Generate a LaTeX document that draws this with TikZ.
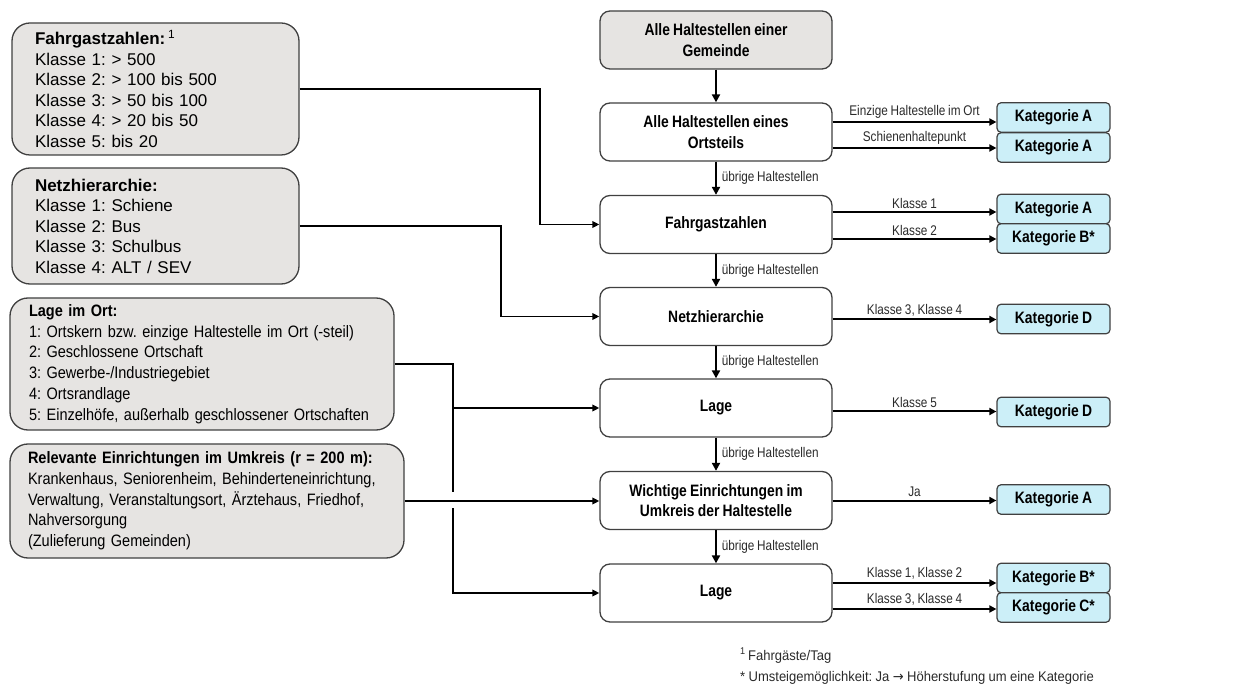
\documentclass[tikz,border=0pt]{standalone}
\usepackage{fontspec}
\setmainfont{Liberation Sans}
\newfontfamily\fB{Liberation Sans}[FakeStretch=0.88,WordSpace=0.88]
\newfontfamily\fC{Liberation Sans}[FakeStretch=0.84,WordSpace=0.84]
\newfontfamily\fF{Liberation Sans}[FakeStretch=0.93,WordSpace=0.93]
\newfontfamily\fArr{DejaVu Sans}[FakeStretch=0.93]
\usetikzlibrary{arrows.meta,calc}
\definecolor{boxgray}{HTML}{E6E4E2}
\definecolor{boxline}{HTML}{404040}
\definecolor{katcyan}{HTML}{CCEFF8}
\definecolor{labtext}{HTML}{2A2A2A}
\begin{document}
\frenchspacing
\begin{tikzpicture}[x=1pt,y=-1pt,
  infobox/.style={draw=boxline, line width=1.3pt, fill=boxgray, rounded corners=18pt, align=left, inner ysep=0pt},
  stepbox/.style={draw=boxline, line width=1.3pt, rounded corners=10pt, minimum width=232pt, minimum height=58pt, align=center, inner sep=0pt, font=\fC\bfseries\fontsize{16.5pt}{20.5pt}\selectfont},
  katbox/.style={draw=boxline, line width=1.2pt, fill=katcyan, rounded corners=4pt, minimum width=113pt, minimum height=29.5pt, inner sep=0pt, font=\fC\bfseries\fontsize{16.5pt}{20pt}\selectfont},
  flow/.style={line width=2.6pt, -{Triangle[length=8pt,width=8pt]}},
  outarr/.style={line width=2pt, -{Triangle[length=7pt,width=7pt]}},
  conn/.style={line width=1.8pt},
  connarr/.style={line width=1.8pt, -{Triangle[length=7pt,width=6.5pt]}},
  lab/.style={font=\fC\fontsize{14pt}{16pt}\selectfont, text=labtext, inner sep=2.5pt},
  foot/.style={font=\fF\fontsize{14pt}{17pt}\selectfont, text=labtext, inner sep=0pt}
]
\useasboundingbox (0,0) rectangle (1240,684);

% left information boxes
\node[infobox, text width=241pt, inner xsep=23pt, minimum height=132pt,
      font=\fontsize{17pt}{20.5pt}\selectfont] (lb1) at (155.5,89)
  {\textbf{Fahrgastzahlen:}\,\textsuperscript{1}\\
   Klasse 1: > 500\\
   Klasse 2: > 100 bis 500\\
   Klasse 3: > 50 bis 100\\
   Klasse 4: > 20 bis 50\\
   Klasse 5: bis 20};
\node[infobox, text width=241pt, inner xsep=23pt, minimum height=116pt,
      font=\fontsize{17pt}{20.5pt}\selectfont] (lb2) at (155.5,226)
  {\textbf{Netzhierarchie:}\\
   Klasse 1: Schiene\\
   Klasse 2: Bus\\
   Klasse 3: Schulbus\\
   Klasse 4: ALT / SEV};
\node[infobox, text width=346pt, inner xsep=19pt, minimum height=132pt,
      font=\fB\fontsize{16.5pt}{20.7pt}\selectfont] (lb3) at (202,364)
  {\textbf{Lage im Ort:}\\
   1: Ortskern bzw. einzige Haltestelle im Ort (-steil)\\
   2: Geschlossene Ortschaft\\
   3: Gewerbe-/Industriegebiet\\
   4: Ortsrandlage\\
   5: Einzelhöfe, außerhalb geschlossener Ortschaften};
\node[infobox, text width=358pt, inner xsep=18pt, minimum height=114pt,
      font=\fB\fontsize{16.5pt}{20.7pt}\selectfont] (lb4) at (207,501)
  {\textbf{Relevante Einrichtungen im Umkreis (r = 200 m):}\\
   Krankenhaus, Seniorenheim, Behinderteneinrichtung,\\
   Verwaltung, Veranstaltungsort, Ärztehaus, Friedhof,\\
   Nahversorgung\\
   (Zulieferung Gemeinden)};

% central steps
\node[stepbox, fill=boxgray] (c0) at (716,40) {Alle Haltestellen einer\\Gemeinde};
\node[stepbox, fill=white] (c1) at (716,132) {Alle Haltestellen eines\\Ortsteils};
\node[stepbox, fill=white] (c2) at (716,224.5) {Fahrgastzahlen};
\node[stepbox, fill=white] (c3) at (716,316.5) {Netzhierarchie};
\node[stepbox, fill=white] (c4) at (716,408) {Lage};
\node[stepbox, fill=white] (c5) at (716,500.5) {Wichtige Einrichtungen im\\Umkreis der Haltestelle};
\node[stepbox, fill=white] (c6) at (716,593) {Lage};

% categories
\node[katbox] (k1) at (1053.5,117.5) {Kategorie A};
\node[katbox] (k2) at (1053.5,147.5) {Kategorie A};
\node[katbox] (k3) at (1053.5,209) {Kategorie A};
\node[katbox] (k4) at (1053.5,238.5) {Kategorie B*};
\node[katbox] (k5) at (1053.5,319) {Kategorie D};
\node[katbox] (k6) at (1053.5,412) {Kategorie D};
\node[katbox] (k7) at (1053.5,499.5) {Kategorie A};
\node[katbox] (k8) at (1053.5,578) {Kategorie B*};
\node[katbox] (k9) at (1053.5,607.5) {Kategorie C*};

% vertical flow
\draw[flow] (c0) -- (c1);
\draw[flow] (c1) -- node[lab, right, xshift=2pt] {übrige Haltestellen} (c2);
\draw[flow] (c2) -- node[lab, right, xshift=2pt] {übrige Haltestellen} (c3);
\draw[flow] (c3) -- node[lab, right, xshift=2pt] {übrige Haltestellen} (c4);
\draw[flow] (c4) -- node[lab, right, xshift=2pt] {übrige Haltestellen} (c5);
\draw[flow] (c5) -- node[lab, right, xshift=2pt] {übrige Haltestellen} (c6);

% outputs to categories
\draw[outarr] ([yshift=10pt]c1.east) -- node[lab, above] {Einzige Haltestelle im Ort} ([yshift=10pt]c1.east -| k1.west);
\draw[outarr] ([yshift=-16pt]c1.east) -- node[lab, above] {Schienenhaltepunkt} ([yshift=-16pt]c1.east -| k2.west);
\draw[outarr] ([yshift=12.5pt]c2.east) -- node[lab, above] {Klasse 1} ([yshift=12.5pt]c2.east -| k3.west);
\draw[outarr] ([yshift=-14.5pt]c2.east) -- node[lab, above] {Klasse 2} ([yshift=-14.5pt]c2.east -| k4.west);
\draw[outarr] ([yshift=-3pt]c3.east) -- node[lab, above] {Klasse 3, Klasse 4} ([yshift=-3pt]c3.east -| k5.west);
\draw[outarr] ([yshift=-3.5pt]c4.east) -- node[lab, above] {Klasse 5} ([yshift=-3.5pt]c4.east -| k6.west);
\draw[outarr] (c5.east) -- node[lab, above] {Ja} (c5.east -| k7.west);
\draw[outarr] ([yshift=10pt]c6.east) -- node[lab, above] {Klasse 1, Klasse 2} ([yshift=10pt]c6.east -| k8.west);
\draw[outarr] ([yshift=-16pt]c6.east) -- node[lab, above] {Klasse 3, Klasse 4} ([yshift=-16pt]c6.east -| k9.west);

% connectors from the information boxes
\draw[connarr] (lb1.east) -- ++(240,0) |- (c2.west);
\draw[connarr] (lb2.east) -- ++(201,0) |- (c3.west);
\coordinate (j) at ([xshift=58pt]lb3.east);
\draw[conn] (lb3.east) -- (j) -- ([yshift=8.5pt]j |- c5.west);
\draw[connarr] (j |- c4.west) -- (c4.west);
\draw[connarr] ([yshift=-7.5pt]j |- c5.west) |- (c6.west);
\draw[connarr] (lb4.east) -- (lb4.east -| c5.west);

% footnotes
\node[foot, anchor=base west] (fn1) at (740,660) {\textsuperscript{1}\,Fahrgäste/Tag};
\node[foot, anchor=base west] (fn2) at (740,681) {* Umsteigemöglichkeit: Ja {\fArr →} Höherstufung um eine Kategorie};
\end{tikzpicture}
\end{document}
